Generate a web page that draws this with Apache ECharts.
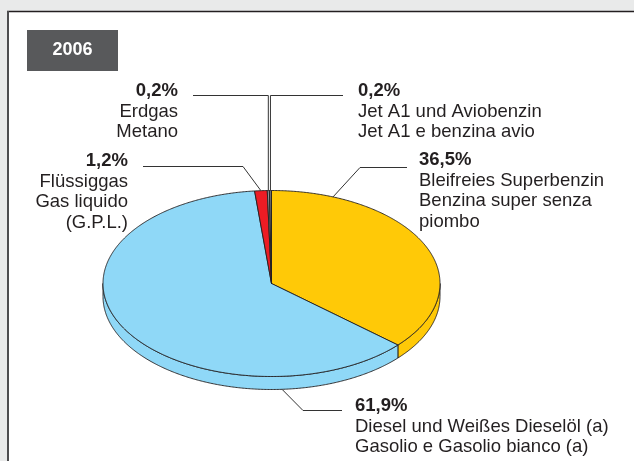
<!DOCTYPE html>
<html><head><meta charset="utf-8">
<script src="https://cdn.jsdelivr.net/npm/echarts@6/dist/echarts.min.js"></script>
<style>html,body{margin:0;padding:0;background:#e9eaea;}#c{width:634px;height:461px;}</style>
</head><body><div id="c"></div>
<script>
// ---- data ----
const year = '2006';
const names = [
  'Bleifreies Superbenzin\nBenzina super senza\npiombo',
  'Diesel und Weißes Dieselöl (a)\nGasolio e Gasolio bianco (a)',
  'Flüssiggas\nGas liquido\n(G.P.L.)',
  'Erdgas\nMetano',
  'Jet A1 und Aviobenzin\nJet A1 e benzina avio'
];
const shares = [36.5, 61.9, 1.2, 0.2, 0.2];
const colors = ['#ffc907', '#8fd8f7', '#ed1c24', '#939598', '#6d6e71'];

// ---- layout (label placement only) ----
const labelLayout = [
  {t: 0.163, side: false, elbow: [360, 167.5], end: [407, 167.5], text: [419, 150], align: 'left'},
  {t: 0.202, side: true,  elbow: [303, 410.5], end: [342, 410.5], text: [355, 396], align: 'left'},
  {t: 0.5,   side: false, elbow: [243, 166.5], end: [143, 166.5], text: [128, 151], align: 'right'},
  {t: 0.5,   side: false, elbow: [null, 95.5], end: [193, 95.5], text: [178, 81], align: 'right'},
  {t: 0.5,   side: false, elbow: [null, 95.5], end: [343, 95.5], text: [358, 81], align: 'left'}
];
const FONT = '"Liberation Sans", Arial, Helvetica, sans-serif';
const FS = 18.5, LH = 20.5;
const CX = 271.5, CY = 283.5, RX = 168.5, RY = 93, DEPTH = 13;
const STROKE = '#231f20';

const total = shares.reduce((a, b) => a + b, 0);
function angles(i) {
  let c = 0;
  for (let k = 0; k < i; k++) c += shares[k];
  const a0 = 90 - c / total * 360;
  const a1 = a0 - shares[i] / total * 360;
  return [a0, a1];
}
function pt(deg, dy) {
  const r = deg * Math.PI / 180;
  return [CX + RX * Math.cos(r), CY - RY * Math.sin(r) + (dy || 0)];
}
function arc(a, b, dy) {
  const n = Math.max(2, Math.ceil(Math.abs(a - b) / 0.5));
  const pts = [];
  for (let j = 0; j <= n; j++) pts.push(pt(a + (b - a) * j / n, dy));
  return pts;
}
function fmt(v) { return v.toFixed(1).replace('.', ',') + '%'; }

function renderItem(params, api) {
  const i = params.dataIndex;
  const [a0, a1] = angles(i);
  const children = [];
  // side walls (front half only)
  for (let k = -2; k <= 1; k++) {
    const lo = -180 + 360 * k, hi = 360 * k;
    const s = Math.max(a1, lo), e = Math.min(a0, hi);
    if (s < e) {
      const poly = arc(e, s, 0).concat(arc(s, e, DEPTH));
      children.push({type: 'polygon', z2: 1, shape: {points: poly},
        style: {fill: colors[i], stroke: STROKE, lineWidth: 0.9, lineJoin: 'round'}});
    }
  }
  // top face
  const top = [[CX, CY]].concat(arc(a0, a1, 0));
  children.push({type: 'polygon', z2: 5, shape: {points: top},
    style: {fill: colors[i], stroke: STROKE, lineWidth: 0.9, lineJoin: 'round'}});
  // leader line
  const L = labelLayout[i];
  const am = a0 + (a1 - a0) * L.t;
  const anchor = pt(am, L.side ? DEPTH : 0);
  const elbow = [L.elbow[0] == null ? anchor[0] : L.elbow[0], L.elbow[1]];
  children.push({type: 'polyline', z2: 10, shape: {points: [anchor, elbow, L.end]},
    style: {stroke: '#333', lineWidth: 1, fill: null}});
  // label text
  const txt = '{p|' + fmt(api.value(0)) + '}\n' +
    names[i].split('\n').map(s => '{n|' + s + '}').join('\n');
  children.push({type: 'text', z2: 10, x: L.text[0], y: L.text[1],
    style: {text: txt, align: L.align, verticalAlign: 'top', fill: '#231f20',
      fontFamily: FONT, fontSize: FS,
      rich: {
        p: {fontWeight: 'bold', fontSize: FS, lineHeight: LH, fontFamily: FONT, fill: '#231f20'},
        n: {fontSize: FS, lineHeight: LH, fontFamily: FONT, fill: '#231f20'}
      }}});
  return {type: 'group', children: children};
}

const chart = echarts.init(document.getElementById('c'), null, {renderer: 'canvas'});
chart.setOption({
  backgroundColor: '#e9eaea',
  animation: false,
  graphic: [
    {type: 'rect', z: -10, shape: {x: 8, y: 11, width: 640, height: 470}, style: {fill: '#ffffff'}},
    {type: 'line', z: -9, shape: {x1: 7, y1: 11.5, x2: 640, y2: 11.5}, style: {stroke: '#231f20', lineWidth: 1.6}},
    {type: 'line', z: -9, shape: {x1: 8, y1: 11, x2: 8, y2: 470}, style: {stroke: '#4d4d4f', lineWidth: 2}},
    {type: 'rect', z: -8, shape: {x: 27, y: 30, width: 91, height: 41}, style: {fill: '#58595b'}},
    {type: 'text', z: -7, x: 72.5, y: 50.5, style: {text: year, fill: '#ffffff', fontFamily: FONT,
      fontWeight: 'bold', fontSize: 18, align: 'center', verticalAlign: 'middle'}}
  ],
  series: [{
    type: 'custom',
    coordinateSystem: 'none',
    renderItem: renderItem,
    data: shares.map((v, i) => ({name: names[i], value: v}))
  }]
});
</script></body></html>
